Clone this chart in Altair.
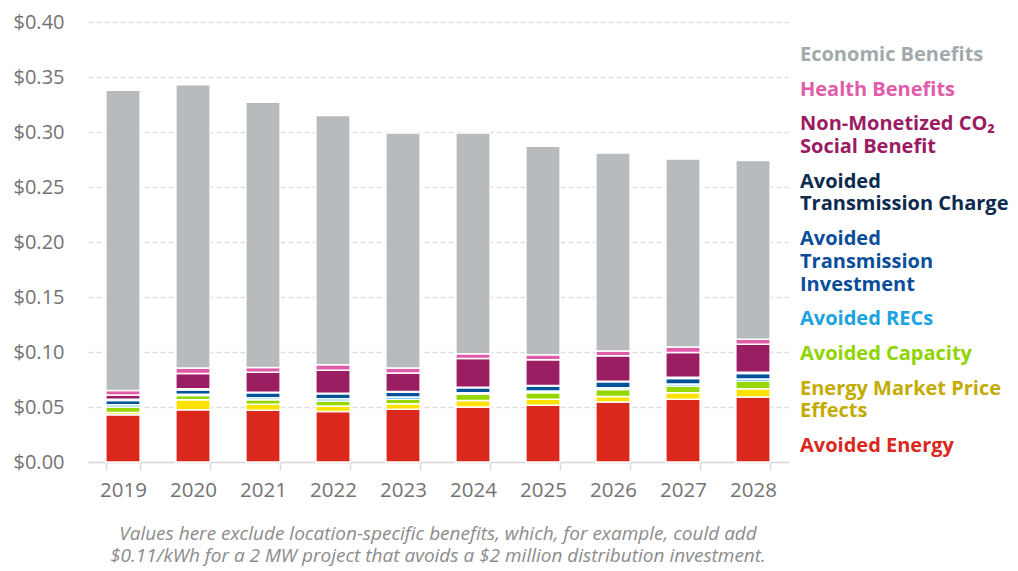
import altair as alt
import pandas as pd

years = ["2019", "2020", "2021", "2022", "2023", "2024", "2025", "2026", "2027", "2028"]

# series, bottom to top of each stack
series_names = [
    "Avoided Energy",
    "Energy Market Price Effects",
    "Avoided Capacity",
    "Avoided RECs",
    "Avoided Transmission Investment",
    "Avoided Transmission Charge",
    "Non-Monetized CO2 Social Benefit",
    "Health Benefits",
    "Economic Benefits",
]

avoided_energy = [0.043, 0.0475, 0.047, 0.046, 0.048, 0.050, 0.0515, 0.0545, 0.057, 0.059]
market_price = [0.002, 0.009, 0.0055, 0.005, 0.005, 0.006, 0.0055, 0.005, 0.006, 0.0075]
avoided_capacity = [0.005, 0.004, 0.004, 0.0045, 0.004, 0.0055, 0.006, 0.0065, 0.006, 0.007]
avoided_recs = [0.002, 0.001, 0.002, 0.002, 0.002, 0.0015, 0.0015, 0.0015, 0.002, 0.002]
trans_investment = [0.004, 0.004, 0.0045, 0.0045, 0.0045, 0.0045, 0.0045, 0.0055, 0.005, 0.005]
trans_charge = [0.001, 0.001, 0.0005, 0.0005, 0.0005, 0.0005, 0.0005, 0.0005, 0.001, 0.001]
co2_benefit = [0.004, 0.014, 0.018, 0.021, 0.017, 0.026, 0.0235, 0.023, 0.0225, 0.0255]
health_benefits = [0.004, 0.005, 0.0045, 0.005, 0.0045, 0.0045, 0.0045, 0.0045, 0.005, 0.0045]
economic_benefits = [0.273, 0.2575, 0.241, 0.2265, 0.2135, 0.2005, 0.1895, 0.180, 0.171, 0.1625]

series_values = [
    avoided_energy, market_price, avoided_capacity, avoided_recs, trans_investment,
    trans_charge, co2_benefit, health_benefits, economic_benefits,
]

y_ticks = [0.0, 0.05, 0.10, 0.15, 0.20, 0.25, 0.30, 0.35, 0.40]

# legend text, top to bottom, one list of lines per series
legend_series = [
    "Economic Benefits",
    "Health Benefits",
    "Non-Monetized CO2 Social Benefit",
    "Avoided Transmission Charge",
    "Avoided Transmission Investment",
    "Avoided RECs",
    "Avoided Capacity",
    "Energy Market Price Effects",
    "Avoided Energy",
]
legend_lines = [
    ["Economic Benefits"],
    ["Health Benefits"],
    ["Non-Monetized CO\u2082", "Social Benefit"],
    ["Avoided", "Transmission Charge"],
    ["Avoided", "Transmission", "Investment"],
    ["Avoided RECs"],
    ["Avoided Capacity"],
    ["Energy Market Price", "Effects"],
    ["Avoided Energy"],
]

footnote = [
    "Values here exclude location-specific benefits, which, for example, could add",
    "$0.11/kWh for a 2 MW project that avoids a $2 million distribution investment.",
]

# styles
bar_colors = ["#DA291C", "#FFE100", "#97D700", "#00A3E0", "#00529B",
              "#0C2340", "#9B1D62", "#E05BA8", "#B7BBBD"]
text_colors = {
    "Economic Benefits": "#A2A9AD",
    "Health Benefits": "#E05BAA",
    "Non-Monetized CO2 Social Benefit": "#9B1B63",
    "Avoided Transmission Charge": "#0C2A4E",
    "Avoided Transmission Investment": "#0A4E9B",
    "Avoided RECs": "#1AA3E0",
    "Avoided Capacity": "#8FD400",
    "Energy Market Price Effects": "#C3AB00",
    "Avoided Energy": "#DA291C",
}
FONT = "Open Sans"
LINE_H = 22.8     # px per legend text line
ENTRY_GAP = 0.52  # extra gap between legend entries, in lines

rows = []
for i, (name, vals) in enumerate(zip(series_names, series_values)):
    for yr, v in zip(years, vals):
        rows.append({"year": yr, "series": name, "value": v, "order": i})
df = pd.DataFrame(rows)

# one multi-line text per legend entry, anchored at its first line
leg_rows = []
line_counter = 0
for e, (name, lines) in enumerate(zip(legend_series, legend_lines)):
    leg_rows.append({
        "series": name,
        "label": "\n".join(lines),
        "pos": line_counter + ENTRY_GAP * e,
    })
    line_counter += len(lines)
leg_df = pd.DataFrame(leg_rows)

bars = alt.Chart(df).mark_bar(stroke="white", strokeWidth=1.5).encode(
    x=alt.X(
        "year:N", title=None,
        scale=alt.Scale(paddingInner=0.51, paddingOuter=0.255),
        axis=alt.Axis(
            labelAngle=0, labelFontSize=20.5, labelFont=FONT, labelColor="#737373",
            labelPadding=10, tickBand="extent", tickSize=8, tickWidth=1.5,
            tickColor="#D9D9D9", domainColor="#D9D9D9", domainWidth=1.5, grid=False,
        ),
    ),
    y=alt.Y(
        "value:Q", stack="zero", title=None,
        scale=alt.Scale(domain=[0, 0.4], nice=False),
        axis=alt.Axis(
            values=y_ticks, format="$.2f", labelFontSize=20, labelFont=FONT,
            labelColor="#737373", labelPadding=24, domain=False, ticks=False,
            grid=True, gridColor="#DDDDDD", gridDash=[5, 3], gridWidth=1.5,
        ),
    ),
    color=alt.Color("series:N", scale=alt.Scale(domain=series_names, range=bar_colors), legend=None),
    order=alt.Order("order:Q", sort="ascending"),
).properties(
    width=700, height=440,
    title=alt.TitleParams(
        text=footnote, orient="bottom", anchor="middle", fontSize=19, font=FONT,
        fontStyle="italic", fontWeight="normal", color="#8C8C8C", lineHeight=22, offset=24,
    ),
)

legend = alt.Chart(leg_df).mark_text(
    align="left", baseline="middle", fontSize=20, fontWeight="bold", font=FONT,
    lineBreak="\n", lineHeight=LINE_H,
).encode(
    x=alt.value(0),
    y=alt.Y("pos:Q", scale=alt.Scale(domain=[-1.447, 17.862], reverse=True, nice=False, zero=False), axis=None),
    text="label:N",
    color=alt.Color(
        "series:N",
        scale=alt.Scale(domain=legend_series, range=[text_colors[s] for s in legend_series]),
        legend=None,
    ),
).properties(width=210, height=440)

chart = alt.hconcat(bars, legend, spacing=12).resolve_scale(color="independent").properties(
    padding={"left": 5, "top": 4, "right": 0, "bottom": 0}
).configure_view(stroke=None)

chart.save("out.html", embed_options={"renderer": "svg", "actions": False})
